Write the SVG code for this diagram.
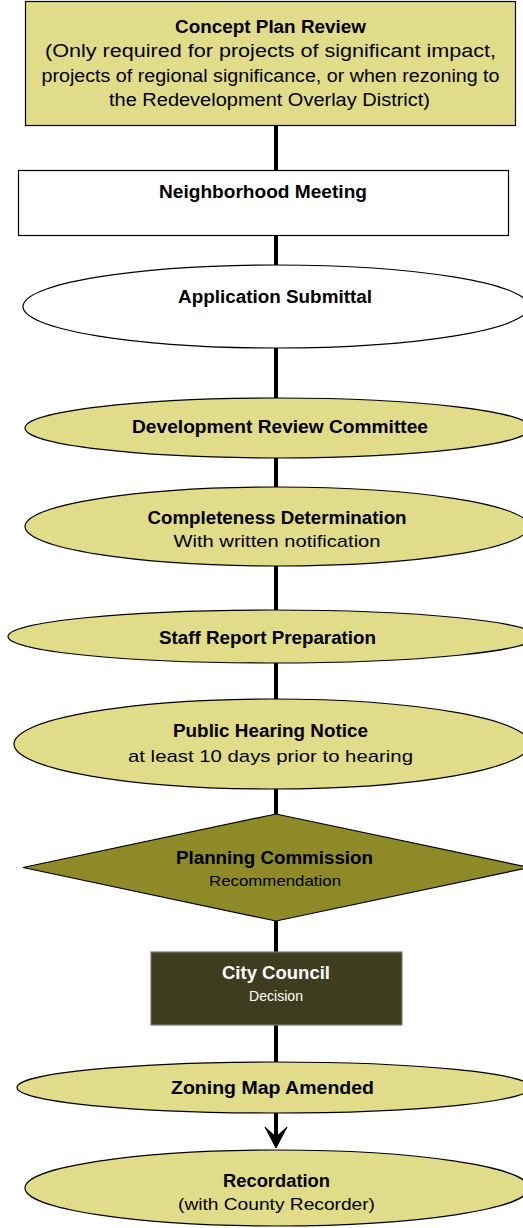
<svg xmlns="http://www.w3.org/2000/svg" width="523" height="1228" viewBox="0 0 523 1228">
<style>
text{font-family:"Liberation Sans",Arial,sans-serif;text-anchor:middle;fill:#000}
.b{font-weight:bold;font-size:18px}
.n{font-size:17px}
.s{font-size:15px}
.t{font-size:17.5px}
.w{fill:#fff}
.kh{fill:#e1dc8a;stroke:#000;stroke-width:1.2}
.wh{fill:#fff;stroke:#000;stroke-width:1.2}
.c{stroke:#000;stroke-width:4;fill:none}
</style>
<rect width="523" height="1228" fill="#fff"/>
<g id="connectors">
<line class="c" x1="276" y1="125" x2="276" y2="170"/>
<line class="c" x1="276" y1="236" x2="276" y2="265"/>
<line class="c" x1="276" y1="348" x2="276" y2="398"/>
<line class="c" x1="276" y1="458" x2="276" y2="487"/>
<line class="c" x1="276" y1="566" x2="276" y2="610"/>
<line class="c" x1="276" y1="663" x2="276" y2="699"/>
<line class="c" x1="276" y1="789" x2="276" y2="814"/>
<line class="c" x1="276" y1="921" x2="276" y2="952"/>
<line class="c" x1="276" y1="1025" x2="276" y2="1062"/>
<line class="c" x1="276" y1="1113" x2="276" y2="1138"/>
<path d="M276,1148 L265,1127 L276,1137 L287,1127 Z" fill="#000" stroke="#000" stroke-width="1"/>
</g>
<g id="concept">
<rect class="kh" x="25.5" y="1.5" width="490" height="124"/>
<text class="b" x="270.5" y="33" textLength="191" lengthAdjust="spacingAndGlyphs">Concept Plan Review</text>
<text class="t" x="270.5" y="57" textLength="451" lengthAdjust="spacingAndGlyphs">(Only required for projects of significant impact,</text>
<text class="t" x="270.5" y="81.5" textLength="458" lengthAdjust="spacingAndGlyphs">projects of regional significance, or when rezoning to</text>
<text class="t" x="269.5" y="106" textLength="321" lengthAdjust="spacingAndGlyphs">the Redevelopment Overlay District)</text>
</g>
<g id="neighborhood">
<rect class="wh" x="18.5" y="170.5" width="490" height="65"/>
<text class="b" x="263" y="198" textLength="208" lengthAdjust="spacingAndGlyphs">Neighborhood Meeting</text>
</g>
<g id="application">
<ellipse class="wh" cx="276" cy="306.5" rx="253" ry="41.5"/>
<text class="b" x="275" y="302.5" textLength="194" lengthAdjust="spacingAndGlyphs">Application Submittal</text>
</g>
<g id="drc">
<ellipse class="kh" cx="278" cy="428" rx="253" ry="30"/>
<text class="b" x="280" y="433" textLength="296" lengthAdjust="spacingAndGlyphs">Development Review Committee</text>
</g>
<g id="completeness">
<ellipse class="kh" cx="277" cy="526.5" rx="252" ry="39.5"/>
<text class="b" x="277" y="524" textLength="259" lengthAdjust="spacingAndGlyphs">Completeness Determination</text>
<text class="n" x="277" y="547" textLength="207" lengthAdjust="spacingAndGlyphs">With written notification</text>
</g>
<g id="staff">
<ellipse class="kh" cx="272" cy="636.5" rx="264" ry="26.5"/>
<text class="b" x="267.5" y="643.5" textLength="217" lengthAdjust="spacingAndGlyphs">Staff Report Preparation</text>
</g>
<g id="hearing">
<ellipse class="kh" cx="272" cy="744" rx="258" ry="45"/>
<text class="b" x="270.5" y="737" textLength="195" lengthAdjust="spacingAndGlyphs">Public Hearing Notice</text>
<text class="n" x="270.5" y="762" textLength="285" lengthAdjust="spacingAndGlyphs">at least 10 days prior to hearing</text>
</g>
<g id="planning">
<polygon points="276,814 529,867.5 276,921 23,867.5" fill="#8e8a28" stroke="#000" stroke-width="1.2"/>
<text class="b" x="274.5" y="864" textLength="197" lengthAdjust="spacingAndGlyphs">Planning Commission</text>
<text class="s" x="275" y="886" textLength="132" lengthAdjust="spacingAndGlyphs">Recommendation</text>
</g>
<g id="council">
<rect x="151" y="952" width="251" height="73" fill="#3e3d20" stroke="#777" stroke-width="1.2"/>
<text class="b w" x="276" y="979" textLength="108" lengthAdjust="spacingAndGlyphs">City Council</text>
<text class="s w" x="276" y="1000.5" textLength="54" lengthAdjust="spacingAndGlyphs">Decision</text>
</g>
<g id="zoning">
<ellipse class="kh" cx="274" cy="1087.5" rx="257" ry="25.5"/>
<text class="b" x="272.5" y="1094" textLength="203" lengthAdjust="spacingAndGlyphs">Zoning Map Amended</text>
</g>
<g id="recordation">
<ellipse class="kh" cx="277" cy="1188" rx="252" ry="38"/>
<text class="b" x="276.5" y="1186.5" textLength="107" lengthAdjust="spacingAndGlyphs">Recordation</text>
<text class="n" x="276.5" y="1210" textLength="197" lengthAdjust="spacingAndGlyphs">(with County Recorder)</text>
</g>
</svg>
